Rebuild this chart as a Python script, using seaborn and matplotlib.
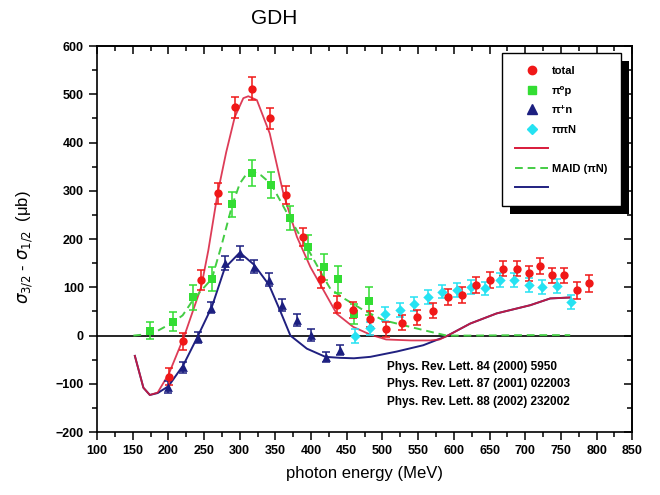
import matplotlib
matplotlib.use("Agg")
import matplotlib.pyplot as plt
from matplotlib.lines import Line2D
from matplotlib.patches import Rectangle
from matplotlib.ticker import MultipleLocator
import numpy as np
import seaborn as sns

# --- measured helicity-difference cross sections (photon energy in MeV, values in microbarn) ---
total_E = [201, 221, 245, 269, 294, 317, 342, 365, 389, 414, 436, 458, 482, 505, 527,
           549, 571, 592, 612, 631, 651, 669, 688, 705, 721, 738, 755, 772, 789]
total_val = [-85, -12, 115, 295, 473, 512, 450, 291, 204, 117, 64, 53, 34, 13, 27,
             38, 52, 80, 84, 105, 115, 139, 139, 129, 144, 125, 125, 94, 108]
total_err = [18, 18, 20, 22, 22, 23, 22, 18, 18, 18, 18, 16, 16, 16, 16,
             16, 16, 16, 16, 16, 16, 16, 16, 16, 16, 16, 16, 18, 18]

pi0p_E = [174, 206, 234, 261, 289, 317, 344, 371, 396, 418, 438, 460, 481]
pi0p_val = [10, 29, 79, 117, 272, 337, 313, 243, 184, 142, 117, 45, 71]
pi0p_err = [18, 20, 25, 25, 26, 27, 27, 25, 25, 27, 28, 20, 29]

pipn_E = [200, 220, 241, 260, 279, 300, 320, 341, 359, 380, 400, 421, 441]
pipn_val = [-107, -66, -4, 58, 150, 171, 143, 116, 63, 32, 1, -44, -30]
pipn_err = [12, 12, 12, 12, 14, 14, 14, 13, 12, 12, 12, 10, 10]

pipiN_E = [462, 483, 504, 525, 544, 564, 584, 604, 624, 644, 665, 684, 705, 723, 744, 764]
pipiN_val = [-1, 15, 45, 53, 66, 80, 91, 94, 101, 98, 115, 115, 105, 101, 103, 70]
pipiN_err = [14, 14, 14, 14, 14, 14, 14, 14, 14, 14, 14, 14, 14, 14, 14, 14]

# --- MAID model curves ---
maid_tot_E = [153, 165, 174, 185, 201, 222, 246, 256, 269, 281, 293, 305, 312, 324, 342,
              361, 380, 399, 417, 436, 459, 483, 505, 540, 567, 580, 590, 623, 660, 707,
              735, 763]
maid_tot_val = [-42, -108, -123, -118, -78, -2, 101, 177, 295, 380, 453, 492, 496, 488, 419,
                295, 205, 142, 95, 45, 18, 2, -8, -10, -10, -8, -1, 25, 46, 63,
                77, 79]

maid_pi0_E = [151, 170, 185, 206, 220, 235, 261, 275, 289, 300, 310, 318, 330, 344, 371,
              399, 417, 427, 445, 473, 501, 539, 567, 590, 620, 700, 763]
maid_pi0_val = [0, 3, 10, 27, 42, 75, 118, 190, 268, 315, 336, 340, 332, 314, 241,
                170, 122, 97, 78, 53, 32, 18, 8, 0, 0, 1, 1]

maid_pin_E = [153, 165, 174, 185, 200, 221, 240, 261, 279, 300, 320, 341, 357, 371, 394,
              420, 440, 460, 483, 520, 557, 590, 623, 660, 707, 735, 763]
maid_pin_val = [-42, -108, -123, -119, -105, -61, -5, 60, 140, 172, 147, 105, 50, 0, -27,
                -44, -46, -47, -44, -33, -20, -1, 25, 46, 63, 77, 79]

references = ["Phys. Rev. Lett. 84 (2000) 5950",
              "Phys. Rev. Lett. 87 (2001) 022003",
              "Phys. Rev. Lett. 88 (2002) 232002"]

c_red = "#f01818"
c_green = "#33dd33"
c_navy = "#1c1f80"
c_cyan = "#25e2f2"
c_red_line = "#d81a3a"
c_green_line = "#44cc44"
c_navy_line = "#202080"

FONTS = ["Liberation Sans", "DejaVu Sans"]

fig = plt.figure(figsize=(6.6, 4.95), dpi=100)
ax = fig.add_axes([0.147, 0.127, 0.811, 0.780])

# zero line
ax.axhline(0, color="black", lw=1.2, zorder=1)

# model curves
sns.lineplot(x=maid_pin_E, y=maid_pin_val, ax=ax, color=c_navy_line, lw=1.4,
             estimator=None, sort=False, zorder=2)
sns.lineplot(x=maid_tot_E, y=maid_tot_val, ax=ax, color=c_red_line, lw=1.3,
             estimator=None, sort=False, zorder=2, alpha=0.85)
sns.lineplot(x=maid_pi0_E, y=maid_pi0_val, ax=ax, color=c_green_line, lw=1.4,
             estimator=None, sort=False, zorder=2, linestyle=(0, (4, 2.5)))

# data with error bars
series = [
    (pi0p_E, pi0p_val, pi0p_err, c_green, "s", 30),
    (pipiN_E, pipiN_val, pipiN_err, c_cyan, "D", 28),
    (pipn_E, pipn_val, pipn_err, c_navy, "^", 40),
    (total_E, total_val, total_err, c_red, "o", 36),
]
for E, v, err, col, mk, s in series:
    ax.errorbar(E, v, yerr=err, fmt="none", ecolor=col, elinewidth=1.1,
                capsize=3, capthick=1.1, zorder=3)
    sns.scatterplot(x=E, y=v, ax=ax, color=col, marker=mk, s=s, linewidth=0, zorder=4)

ax.set_xlim(100, 850)
ax.set_ylim(-200, 600)

ax.xaxis.set_major_locator(MultipleLocator(50))
ax.xaxis.set_minor_locator(MultipleLocator(25))
ax.yaxis.set_major_locator(MultipleLocator(100))
ax.yaxis.set_minor_locator(MultipleLocator(50))
ax.tick_params(which="major", direction="out", length=6, width=1.1)
ax.tick_params(which="minor", direction="out", length=3.5, width=1.1)
for lab in ax.get_xticklabels() + ax.get_yticklabels():
    lab.set_fontsize(9)
    lab.set_fontweight("bold")
    lab.set_family(FONTS)

# inward ticks on top and right
top = ax.secondary_xaxis("top")
top.xaxis.set_major_locator(MultipleLocator(50))
top.xaxis.set_minor_locator(MultipleLocator(25))
top.tick_params(which="major", direction="in", length=6, width=1.1, labeltop=False)
top.tick_params(which="minor", direction="in", length=3.5, width=1.1)
right = ax.secondary_yaxis("right")
right.yaxis.set_major_locator(MultipleLocator(100))
right.yaxis.set_minor_locator(MultipleLocator(50))
right.tick_params(which="major", direction="in", length=6, width=1.1, labelright=False)
right.tick_params(which="minor", direction="in", length=3.5, width=1.1)
for a in (ax, top, right):
    for sp in a.spines.values():
        sp.set_linewidth(1.2)

ax.set_xlabel("photon energy (MeV)", fontsize=12, family=FONTS, labelpad=6)
ax.set_ylabel(r"$\sigma_{3/2}$ - $\sigma_{1/2}$  (μb)", fontsize=12,
              family=FONTS, labelpad=8)
ax.yaxis.set_label_coords(-0.115, 0.48)
fig.text(0.415, 0.962, "GDH", fontsize=15, family=FONTS, ha="center", va="center")

for i, ref in enumerate(references):
    ax.text(507, -65 - 36 * i, ref, fontsize=8.5, fontweight="bold",
            family=FONTS, va="center", ha="left", zorder=5)

# legend
handles = [
    Line2D([], [], ls="none", marker="o", color=c_red, ms=6),
    Line2D([], [], ls="none", marker="s", color=c_green, ms=6),
    Line2D([], [], ls="none", marker="^", color=c_navy, ms=6.5),
    Line2D([], [], ls="none", marker="D", color=c_cyan, ms=5.5),
    Line2D([], [], color=c_red_line, lw=1.4),
    Line2D([], [], color=c_green_line, lw=1.4, ls=(0, (4, 2.5))),
    Line2D([], [], color=c_navy_line, lw=1.4),
]
labels = ["total", "π⁰p", "π⁺n", "ππN", "", "MAID (πN)", ""]
leg = ax.legend(handles, labels, loc="upper right", bbox_to_anchor=(0.978, 0.982),
                frameon=True, fancybox=False, edgecolor="black", framealpha=1,
                prop=dict(size=8, weight="bold", family=FONTS),
                handlelength=3.0, handletextpad=0.3, labelspacing=0.85,
                borderpad=1.2, borderaxespad=0)
leg.get_frame().set_linewidth(1.0)
leg.set_zorder(6)

fig.canvas.draw()
bb = leg.get_window_extent().transformed(ax.transAxes.inverted())
dx = 8 / (ax.bbox.width)
dy = 8 / (ax.bbox.height)
ax.add_patch(Rectangle((bb.x0 + dx, bb.y0 - dy), bb.width, bb.height,
                       transform=ax.transAxes, facecolor="black", edgecolor="none",
                       zorder=5.5, clip_on=False))

fig.savefig("out.png", dpi=100)
